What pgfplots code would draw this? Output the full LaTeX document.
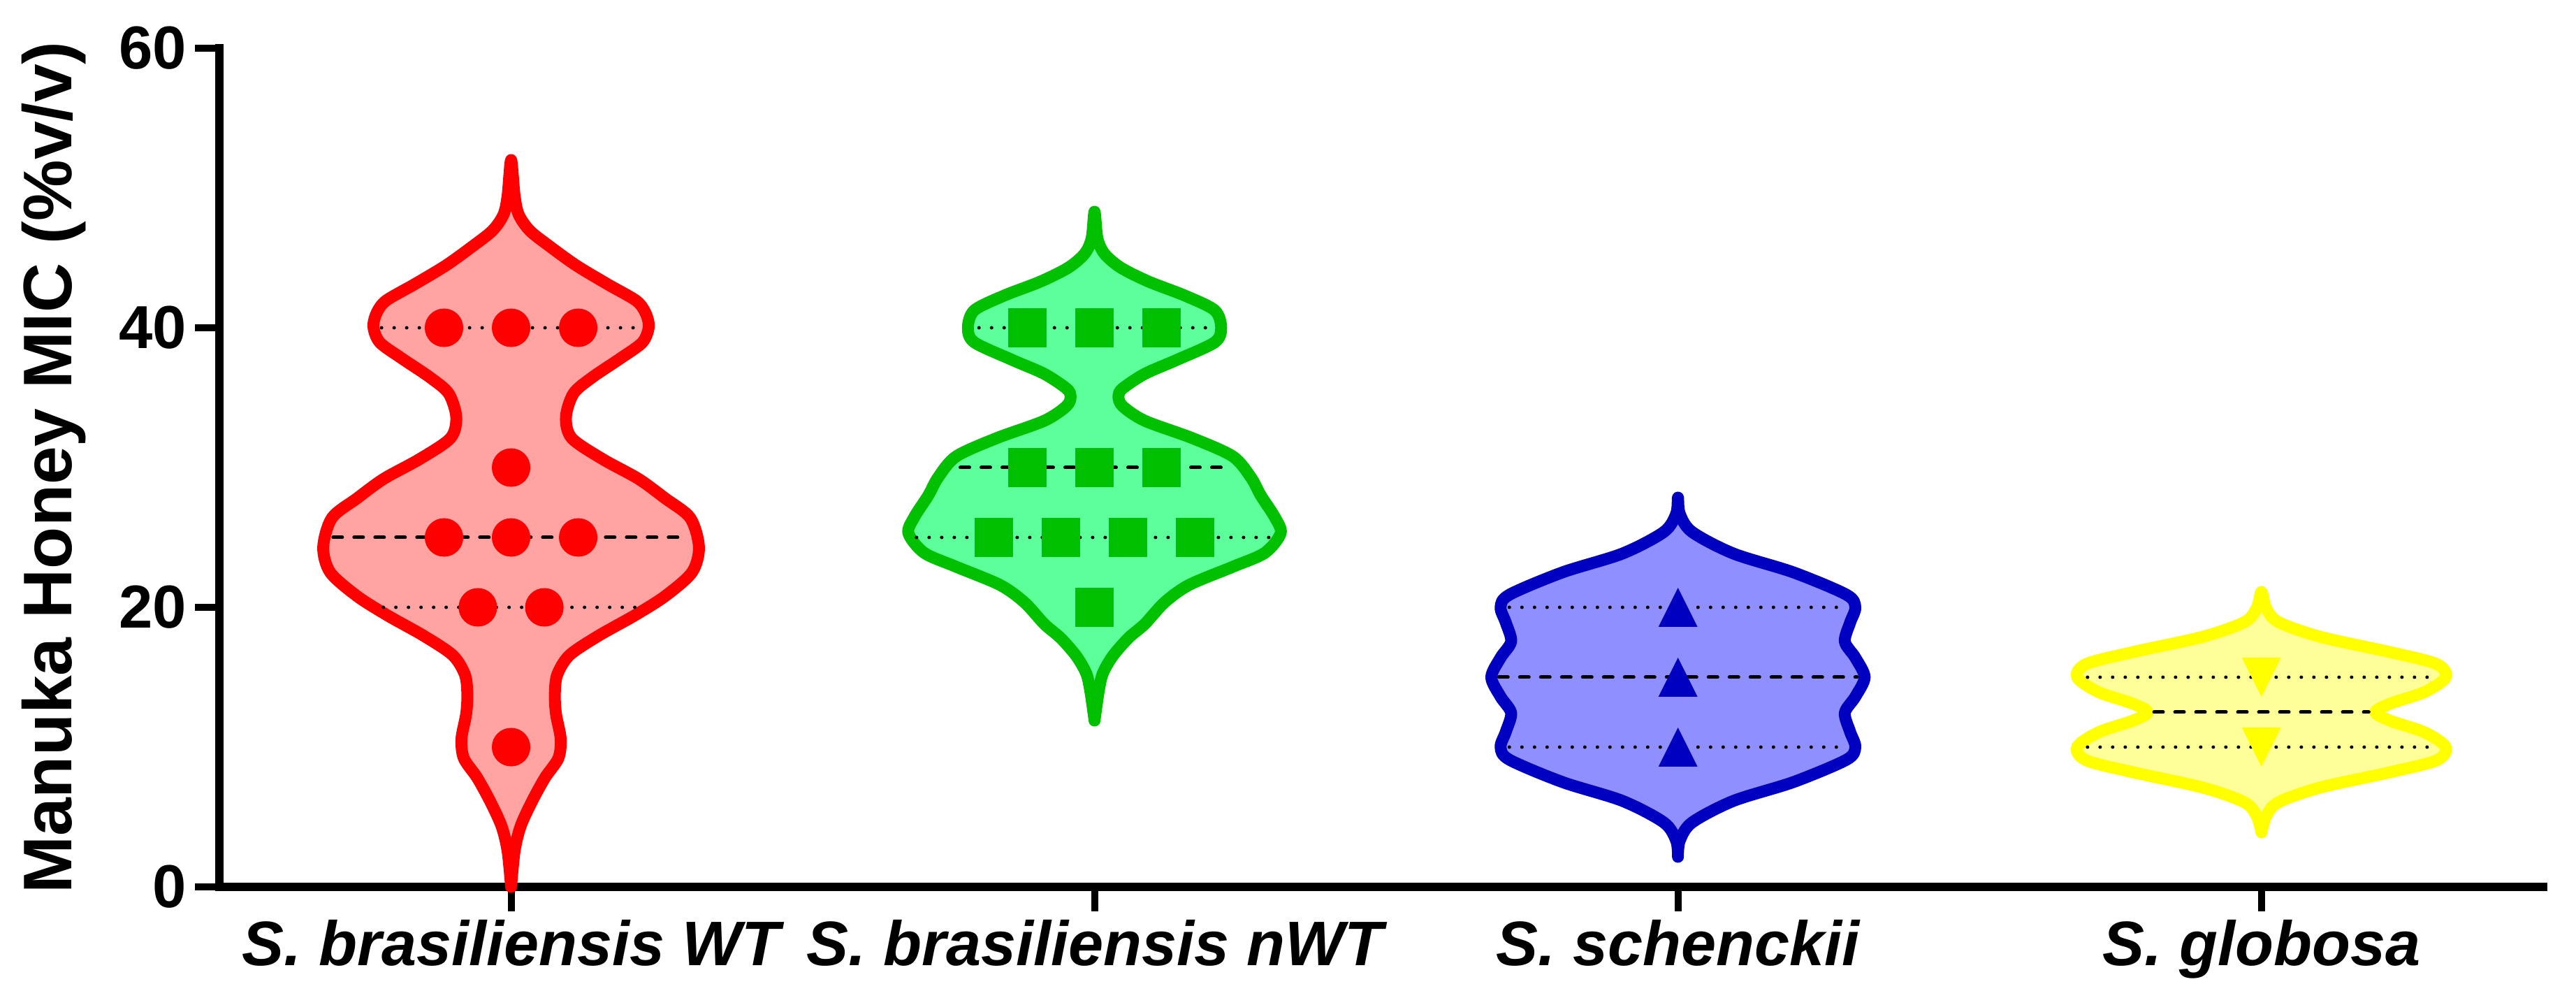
\documentclass[border=0pt]{standalone}
\usepackage{fontspec}
\setmainfont{Liberation Sans}
\usepackage{pgfplots}
\usepackage{pgfplotstable}
\pgfplotsset{compat=1.18}

\definecolor{wtline}{RGB}{255,0,0}
\definecolor{wtfill}{RGB}{255,163,163}
\definecolor{nwtline}{RGB}{0,192,0}
\definecolor{nwtfill}{RGB}{92,255,153}
\definecolor{schline}{RGB}{0,0,192}
\definecolor{schfill}{RGB}{143,143,255}
\definecolor{globline}{RGB}{255,255,0}
\definecolor{globfill}{RGB}{255,255,153}

% triangle marks, as wide as tall
\pgfdeclareplotmark{tup}{%
  \pgfpathmoveto{\pgfqpoint{0pt}{\pgfplotmarksize}}%
  \pgfpathlineto{\pgfqpoint{\pgfplotmarksize}{-\pgfplotmarksize}}%
  \pgfpathlineto{\pgfqpoint{-\pgfplotmarksize}{-\pgfplotmarksize}}%
  \pgfpathclose\pgfusepathqfill}
\pgfdeclareplotmark{tdown}{%
  \pgfpathmoveto{\pgfqpoint{0pt}{-\pgfplotmarksize}}%
  \pgfpathlineto{\pgfqpoint{\pgfplotmarksize}{\pgfplotmarksize}}%
  \pgfpathlineto{\pgfqpoint{-\pgfplotmarksize}{\pgfplotmarksize}}%
  \pgfpathclose\pgfusepathqfill}

% violin outlines: offset from the category centre, value
\pgfplotstableread{
dx y
0 0
0.006 2.55
0.016 4.3
0.035 6.05
0.058 7.8
0.081 9.2
0.085 10.6
0.077 12.36
0.075 13.76
0.079 15.17
0.100 16.57
0.150 17.97
0.211 19.4
0.264 20.8
0.310 22.5
0.322 24.3
0.307 26.4
0.264 27.8
0.218 29.2
0.157 30.6
0.104 32.1
0.094 33.6
0.107 35.3
0.139 36.45
0.187 37.8
0.225 38.95
0.236 40.08
0.230 41.1
0.214 41.95
0.166 43.1
0.112 44.45
0.067 45.8
0.032 46.95
0.013 48.1
0.006 49.45
0 52.0
-0.006 49.45
-0.013 48.1
-0.032 46.95
-0.067 45.8
-0.112 44.45
-0.166 43.1
-0.214 41.95
-0.230 41.1
-0.236 40.08
-0.225 38.95
-0.187 37.8
-0.139 36.45
-0.107 35.3
-0.094 33.6
-0.104 32.1
-0.157 30.6
-0.218 29.2
-0.264 27.8
-0.307 26.4
-0.322 24.3
-0.310 22.5
-0.264 20.8
-0.211 19.4
-0.150 17.97
-0.100 16.57
-0.079 15.17
-0.075 13.76
-0.077 12.36
-0.085 10.6
-0.081 9.2
-0.058 7.8
-0.035 6.05
-0.016 4.3
-0.006 2.55
0 0
}\violinwt

\pgfplotstableread{
dx y
0 11.9
0.007 13.95
0.014 15.25
0.031 16.5
0.058 17.8
0.086 18.8
0.120 20.35
0.162 21.6
0.237 22.9
0.292 23.9
0.319 25.3
0.309 26.45
0.285 28.0
0.268 29.3
0.237 30.8
0.168 32.1
0.086 33.35
0.048 34.4
0.041 35.1
0.048 35.65
0.086 36.7
0.141 37.7
0.206 38.96
0.217 40.0
0.206 41.25
0.155 42.3
0.093 43.3
0.045 44.3
0.017 45.3
0.005 46.4
0 48.3
-0.005 46.4
-0.017 45.3
-0.045 44.3
-0.093 43.3
-0.155 42.3
-0.206 41.25
-0.217 40.0
-0.206 38.96
-0.141 37.7
-0.086 36.7
-0.048 35.65
-0.041 35.1
-0.048 34.4
-0.086 33.35
-0.168 32.1
-0.237 30.8
-0.268 29.3
-0.285 28.0
-0.309 26.45
-0.319 25.3
-0.292 23.9
-0.237 22.9
-0.162 21.6
-0.120 20.35
-0.086 18.8
-0.058 17.8
-0.031 16.5
-0.014 15.25
-0.007 13.95
0 11.9
}\violinnwt

\pgfplotstableread{
dx y
0 2.15
0.003 3.3
0.024 4.6
0.095 6.15
0.198 7.5
0.289 9.1
0.304 10.0
0.295 11.1
0.286 12.45
0.304 13.6
0.320 15.0
0.304 16.4
0.286 17.55
0.295 18.9
0.304 20.0
0.289 20.9
0.198 22.5
0.095 23.85
0.024 25.4
0.003 26.7
0 27.85
-0.003 26.7
-0.024 25.4
-0.095 23.85
-0.198 22.5
-0.289 20.9
-0.304 20.0
-0.295 18.9
-0.286 17.55
-0.304 16.4
-0.320 15.0
-0.304 13.6
-0.286 12.45
-0.295 11.1
-0.304 10.0
-0.289 9.1
-0.198 7.5
-0.095 6.15
-0.024 4.6
-0.003 3.3
0 2.15
}\violinsch

\pgfplotstableread{
dx y
0 3.9
0.008 5.05
0.029 6.05
0.100 7.1
0.220 8.2
0.300 9.05
0.316 10.0
0.280 11.05
0.220 11.9
0.195 12.5
0.220 13.1
0.280 13.95
0.316 15.0
0.300 15.95
0.220 16.8
0.100 17.9
0.029 18.95
0.008 19.95
0 21.1
-0.008 19.95
-0.029 18.95
-0.100 17.9
-0.220 16.8
-0.300 15.95
-0.316 15.0
-0.280 13.95
-0.220 13.1
-0.195 12.5
-0.220 11.9
-0.280 11.05
-0.316 10.0
-0.300 9.05
-0.220 8.2
-0.100 7.1
-0.029 6.05
-0.008 5.05
0 3.9
}\violinglob

\begin{document}
\begin{tikzpicture}
\useasboundingbox (-3.14cm,-1.69cm) rectangle (33.73cm,12.69cm);
\begin{axis}[
    at={(0,0)}, anchor=south west,
    scale only axis,
    width=33.26cm, height=12cm,
    xmin=-0.5, xmax=3.483,
    ymin=0, ymax=60,
    axis x line*=bottom, axis y line*=left,
    axis line style={line width=0.12cm, line cap=rect, -},
    tick align=outside,
    major tick length=0.35cm,
    every tick/.style={black, line width=0.1cm},
    xtick={0,1,2,3},
    xticklabels={S. brasiliensis WT, S. brasiliensis nWT, S. schenckii, S. globosa},
    ytick={0,20,40,60},
    /pgf/number format/assume math mode=true,
    yticklabel style={font=\fontsize{24.7}{28}\selectfont\bfseries},
    xticklabel style={font=\fontsize{25.6}{30}\selectfont\bfseries\itshape},
    ylabel={Manuka Honey MIC (\%v/v)},
    ylabel style={font=\fontsize{28}{32}\selectfont\bfseries,
                  at={(axis description cs:-0.0713,0.5)}, anchor=center},
    clip=false,
    violin/.style={smooth, line width=0.17cm, line join=round, line cap=round},
    median/.style={black, line width=0.05cm, line cap=round, dash pattern=on 0.13cm off 0.17cm},
    quart/.style={black, line width=0.05cm, line cap=round, dash pattern=on 0pt off 0.18cm},
]

% violins
\addplot[violin, draw=wtline, fill=wtfill] table[x expr=0+\thisrow{dx}, y=y] {\violinwt};
\addplot[violin, draw=nwtline, fill=nwtfill] table[x expr=1+\thisrow{dx}, y=y] {\violinnwt};
\addplot[violin, draw=schline, fill=schfill] table[x expr=2+\thisrow{dx}, y=y] {\violinsch};
\addplot[violin, draw=globline, fill=globfill] table[x expr=3+\thisrow{dx}, y=y] {\violinglob};

% medians and quartiles
\addplot[quart] coordinates {(-0.222,40) (0.222,40)};
\addplot[median] coordinates {(-0.305,25) (0.305,25)};
\addplot[quart] coordinates {(-0.219,20) (0.219,20)};

\addplot[quart] coordinates {(0.802,40) (1.198,40)};
\addplot[median] coordinates {(0.77,30) (1.23,30)};
\addplot[quart] coordinates {(0.695,25) (1.305,25)};

\addplot[quart] coordinates {(1.711,20) (2.289,20)};
\addplot[median] coordinates {(1.693,15) (2.307,15)};
\addplot[quart] coordinates {(1.711,10) (2.289,10)};

\addplot[quart] coordinates {(2.702,15) (3.298,15)};
\addplot[median] coordinates {(2.816,12.5) (3.184,12.5)};
\addplot[quart] coordinates {(2.702,10) (3.298,10)};

% individual MIC values
\addplot[only marks, mark=*, mark size=0.27cm, mark options={fill=wtline, draw=wtline, line width=0.3pt}]
  coordinates {(-0.115,40) (0,40) (0.115,40) (0,30) (-0.115,25) (0,25) (0.115,25) (-0.057,20) (0.057,20) (0,10)};
\addplot[only marks, mark=square*, mark size=0.27cm, mark options={fill=nwtline, draw=nwtline, line width=0.3pt}]
  coordinates {(0.885,40) (1,40) (1.115,40) (0.885,30) (1,30) (1.115,30)
               (0.828,25) (0.9425,25) (1.0575,25) (1.172,25) (1,20)};
\addplot[only marks, mark=tup, mark size=0.28cm, mark options={fill=schline}]
  coordinates {(2,20) (2,15) (2,10)};
\addplot[only marks, mark=tdown, mark size=0.28cm, mark options={fill=globline}]
  coordinates {(3,15) (3,10)};

\end{axis}
\end{tikzpicture}
\end{document}
